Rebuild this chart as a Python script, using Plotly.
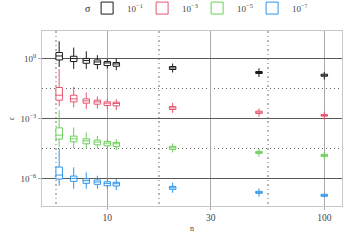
import plotly.graph_objects as go

n_vals = [6, 7, 8, 9, 10, 11, 20, 50, 100]
sigma_labels = ["10<sup>−1</sup>", "10<sup>−3</sup>", "10<sup>−5</sup>", "10<sup>−7</sup>"]
colors = ["#1a1a1a", "#e5566f", "#6ccf5a", "#3095e8"]

# log10(epsilon) statistics: low whisker, q1, median, q3, high whisker
s1_low = [-0.42, -0.52, -0.52, -0.535, -0.50, -0.585, -0.70, -0.92, -1.05]
s1_q1 = [-0.07, -0.15, -0.235, -0.30, -0.35, -0.385, -0.55, -0.75, -0.885]
s1_med = [0.13, 0.0, -0.10, -0.17, -0.22, -0.27, -0.47, -0.70, -0.835]
s1_q3 = [0.30, 0.115, 0.0, -0.07, -0.15, -0.20, -0.40, -0.65, -0.785]
s1_high = [0.865, 0.55, 0.365, 0.165, -0.035, 0.0, -0.25, -0.485, -0.67]

s3_low = [-2.385, -2.45, -2.52, -2.50, -2.52, -2.585, -2.72, -2.92, -3.05]
s3_q1 = [-2.085, -2.17, -2.235, -2.285, -2.35, -2.37, -2.55, -2.75, -2.885]
s3_med = [-1.835, -2.02, -2.12, -2.17, -2.235, -2.25, -2.47, -2.685, -2.85]
s3_q3 = [-1.45, -1.835, -2.02, -2.085, -2.17, -2.185, -2.40, -2.635, -2.80]
s3_high = [-0.535, -1.42, -1.70, -1.90, -2.02, -2.035, -2.22, -2.50, -2.67]

s5_low = [-4.42, -4.50, -4.52, -4.52, -4.50, -4.585, -4.70, -4.92, -5.05]
s5_q1 = [-4.035, -4.17, -4.27, -4.32, -4.37, -4.40, -4.55, -4.75, -4.90]
s5_med = [-3.835, -4.02, -4.12, -4.185, -4.235, -4.27, -4.47, -4.70, -4.85]
s5_q3 = [-3.47, -3.885, -4.02, -4.085, -4.15, -4.20, -4.40, -4.65, -4.80]
s5_high = [-2.585, -3.45, -3.70, -3.87, -4.035, -4.035, -4.25, -4.50, -4.685]

s7_low = [-6.37, -6.52, -6.52, -6.52, -6.52, -6.585, -6.72, -6.92, -6.96]
s7_q1 = [-6.035, -6.15, -6.25, -6.30, -6.37, -6.385, -6.55, -6.75, -6.90]
s7_med = [-5.835, -6.00, -6.12, -6.185, -6.25, -6.27, -6.47, -6.70, -6.85]
s7_q3 = [-5.435, -5.885, -6.02, -6.085, -6.17, -6.20, -6.40, -6.65, -6.80]
s7_high = [-4.50, -5.45, -5.70, -5.87, -6.00, -6.035, -6.22, -6.50, -6.76]

series = [
    (s1_low, s1_q1, s1_med, s1_q3, s1_high),
    (s3_low, s3_q1, s3_med, s3_q3, s3_high),
    (s5_low, s5_q1, s5_med, s5_q3, s5_high),
    (s7_low, s7_q1, s7_med, s7_q3, s7_high),
]

x_ticks = [10, 30, 100]
x_minor = [5.774, 17.32, 54.77]
y_ticks = [1, 1e-3, 1e-6]
y_ticktext = ["10<sup>0</sup>", "10<sup>−3</sup>", "10<sup>−6</sup>"]
y_minor = [10 ** -1.5, 10 ** -4.5]


def p(v):
    return [10 ** e for e in v]


fig = go.Figure()
for (lo, q1, md, q3, hi), lab, col in zip(series, sigma_labels, colors):
    fig.add_trace(go.Box(
        x=n_vals, lowerfence=p(lo), q1=p(q1), median=p(md), q3=p(q3), upperfence=p(hi),
        name=lab, boxpoints=False, fillcolor="white",
        line=dict(color=col, width=1), whiskerwidth=0, width=0.03,
    ))

font = "Liberation Serif"
fig.add_annotation(text="σ", xref="paper", yref="paper", x=0.153, y=1.131,
                   xanchor="center", yanchor="middle", showarrow=False,
                   font=dict(size=10, color="#222"))
fig.update_layout(
    width=350, height=240,
    margin=dict(l=42, r=8, t=31, b=34, autoexpand=False),
    paper_bgcolor="white", plot_bgcolor="white",
    font=dict(family=font, size=9, color="#333"),
    showlegend=True,
    boxmode="overlay",
    legend=dict(
        orientation="h", x=0.517, xanchor="center", y=1.131, yanchor="middle",
        font=dict(size=9, color="#444"),
        itemwidth=30, entrywidth=10, entrywidthmode="pixels",
    ),
    xaxis=dict(
        type="log", range=[0.699, 2.0816], automargin=False,
        tickvals=x_ticks, ticktext=[str(t) for t in x_ticks],
        showgrid=True, gridcolor="#aaaaaa", gridwidth=1.4,
        zeroline=False, showline=True, linecolor="#c8c8c8", linewidth=1, mirror=True,
        ticks="outside", ticklen=3, tickcolor="#aaaaaa",
        tickfont=dict(size=9.5, color="#444"),
        title=dict(text="n", font=dict(size=8, color="#444"), standoff=2),
        minor=dict(tickvals=x_minor, showgrid=True, gridcolor="#b8b8b8",
                   griddash="1.5px,3px", gridwidth=1.5, ticks=""),
    ),
    yaxis=dict(
        type="log", range=[-7.385, 1.38], automargin=False,
        tickvals=y_ticks, ticktext=y_ticktext,
        showgrid=True, gridcolor="#5a5a5a", gridwidth=0.8,
        zeroline=False, showline=True, linecolor="#c8c8c8", linewidth=1, mirror=True,
        ticks="outside", ticklen=3, tickcolor="#aaaaaa",
        tickfont=dict(size=9, color="#444"),
        title=dict(text="ε", font=dict(size=8, color="#444"), standoff=4),
        minor=dict(tickvals=y_minor, showgrid=True, gridcolor="#666666",
                   griddash="1px,3px", gridwidth=0.8, ticks=""),
    ),
)

fig.write_html("out.html", config={"displayModeBar": False},
               post_script="document.body.style.margin='0';")
